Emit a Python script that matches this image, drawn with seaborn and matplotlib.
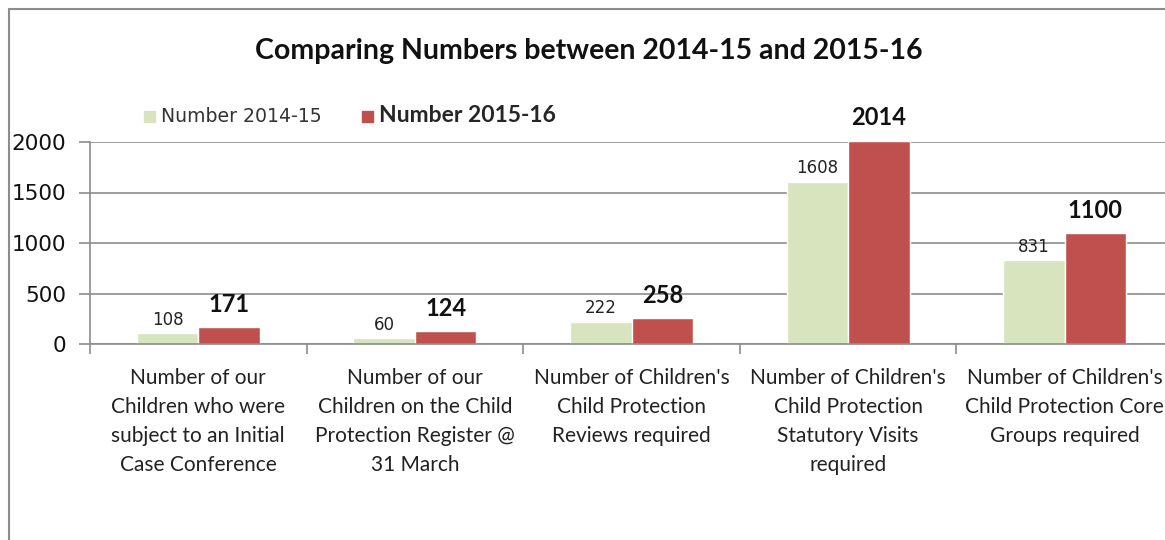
import pandas as pd
import matplotlib
matplotlib.use("Agg")
import matplotlib.pyplot as plt
import seaborn as sns

# data
categories = [
    "Number of our\nChildren who were\nsubject to an Initial\nCase Conference",
    "Number of our\nChildren on the Child\nProtection Register @\n31 March",
    "Number of Children's\nChild Protection\nReviews required",
    "Number of Children's\nChild Protection\nStatutory Visits\nrequired",
    "Number of Children's\nChild Protection Core\nGroups required",
]
series = ["Number 2014-15", "Number 2015-16"]
values_1415 = [108, 60, 222, 1608, 831]
values_1516 = [171, 124, 258, 2014, 1100]
y_ticks = [0, 500, 1000, 1500, 2000]

df = pd.DataFrame({
    "category": categories * 2,
    "series": [series[0]] * 5 + [series[1]] * 5,
    "value": values_1415 + values_1516,
})

sns.set_style("white")
plt.rcParams["font.family"] = ["Lato", "DejaVu Sans"]

W, H = 1165, 540
fig = plt.figure(figsize=(W / 100, H / 100), dpi=100)

# outer chart border (only top/left visible in the crop)
fig.add_artist(plt.Line2D([9 / W, 9 / W], [0, 1 - 9 / H], color="#8c8c8c", lw=1.5))
fig.add_artist(plt.Line2D([9 / W, 1], [1 - 9 / H, 1 - 9 / H], color="#8c8c8c", lw=1.5))

ax = fig.add_axes([90 / W, 1 - 344 / H, 1083 / W, 202 / H])
palette = {series[0]: "#d7e4bd", series[1]: "#c0504d"}
sns.barplot(data=df, x="category", y="value", hue="series", palette=palette,
            width=0.568, gap=0, saturation=1, ax=ax, legend=False)

for p in ax.patches:
    p.set_clip_on(False)

ax.set_xlim(-0.5, 4.5)
ax.set_ylim(0, 2000)
ax.set_yticks(y_ticks)
ax.set_yticklabels([str(t) for t in y_ticks], family="DejaVu Sans", fontsize=15.5, color="#111111")
ax.set_xlabel("")
ax.set_ylabel("")
ax.yaxis.grid(True, color="#8c8c8c", lw=1.2)
ax.set_axisbelow(True)
for s in ["top", "right"]:
    ax.spines[s].set_visible(False)
for s in ["left", "bottom"]:
    ax.spines[s].set_color("#8c8c8c")
    ax.spines[s].set_linewidth(1.2)

ax.tick_params(axis="y", length=8, width=1.2, color="#8c8c8c", pad=9, direction="out", left=True)
ax.set_xticks(range(5))
ax.set_xticklabels(categories, fontsize=15, linespacing=1.57, color="#222222")
ax.tick_params(axis="x", length=0, pad=17)
ax.set_xticks([i - 0.5 for i in range(6)], minor=True)
ax.tick_params(axis="x", which="minor", length=7, width=1.2, color="#8c8c8c", direction="out", bottom=True)

# value labels
conts = ax.containers
for bar, v in zip(conts[0], values_1415):
    ax.annotate(str(v), (bar.get_x() + bar.get_width() / 2, v), xytext=(0, 3),
                textcoords="offset points", ha="center", va="bottom",
                family="DejaVu Sans", fontsize=12, color="#222222", annotation_clip=False)
for bar, v in zip(conts[1], values_1516):
    ax.annotate(str(v), (bar.get_x() + bar.get_width() / 2, v), xytext=(0, 8),
                textcoords="offset points", ha="center", va="bottom",
                fontsize=17, fontweight="bold", color="#111111", annotation_clip=False)

# legend
handles = [plt.Rectangle((0, 0), 1, 1, color=palette[s]) for s in series]
leg = fig.legend(handles, series, loc="center left", bbox_to_anchor=(138 / W, 1 - 115 / H),
                 ncol=2, frameon=False, handlelength=0.8, handleheight=0.8,
                 handletextpad=0.45, columnspacing=2.9, borderaxespad=0)
leg.get_texts()[0].set_fontsize(13.6)
leg.get_texts()[0].set_family("DejaVu Sans")
leg.get_texts()[0].set_color("#333333")
leg.get_texts()[1].set_fontsize(16.5)
leg.get_texts()[1].set_fontweight("bold")

fig.text(589 / W, 1 - 51 / H, "Comparing Numbers between 2014-15 and 2015-16",
         ha="center", va="center", fontsize=20.5, fontweight="bold", color="#111111")

fig.savefig("out.png", dpi=100)
